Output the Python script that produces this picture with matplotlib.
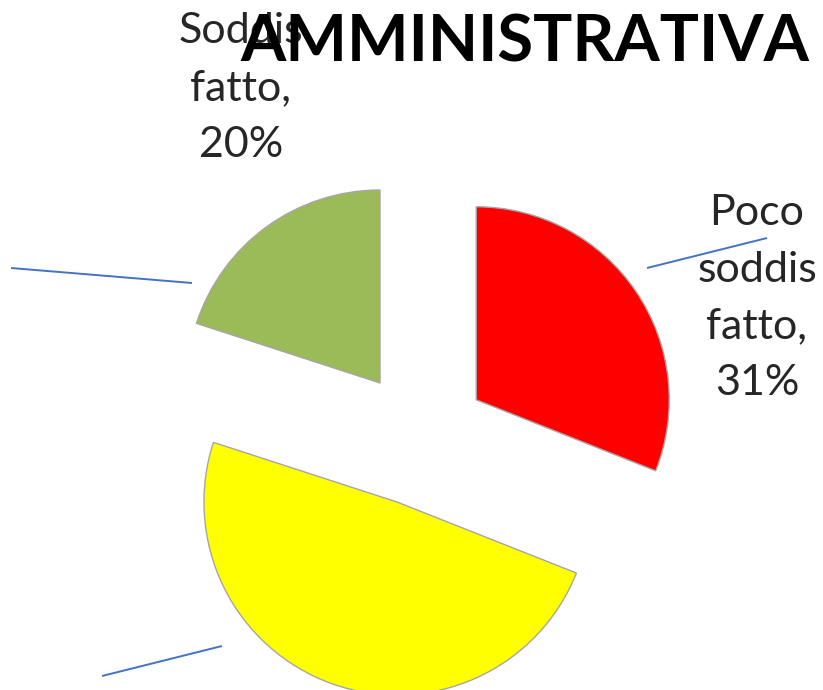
import matplotlib
matplotlib.use("Agg")
import matplotlib.pyplot as plt

# Data
categories = ["Poco soddisfatto", "Abbastanza soddisfatto", "Soddisfatto"]
values = [31, 49, 20]
colors = ["#FF0000", "#FFFF00", "#9BBB59"]
label_lines = {"Poco soddisfatto": "Poco\nsoddis\nfatto",
               "Soddisfatto": "Soddis\nfatto"}
title = "AMMINISTRATIVA"

W, H = 823, 690
fig = plt.figure(figsize=(W / 100, H / 100), dpi=100)
ax = fig.add_axes([0, 0, 1, 1])

R = 193
center = (420, H - 438)
explode = [68] * len(values)
ax.pie(values, colors=colors, startangle=90, counterclock=False,
       radius=R, center=center, explode=explode,
       wedgeprops=dict(edgecolor="#a6a6a6", linewidth=1.0))
ax.set_xlim(0, W)
ax.set_ylim(0, H)
ax.set_aspect("equal")
ax.axis("off")

line_col = "#4472C4"
# leader lines (layout)
leaders = [((647, 268), (767, 238)),
           ((192, 283), (11, 268)),
           ((222, 646), (102, 676))]
for (x0, y0), (x1, y1) in leaders:
    ax.plot([x0, x1], [H - y0, H - y1], color=line_col, lw=1.4,
            solid_capstyle="butt", zorder=1)

txt_col = "#262626"
fs = 31
ls = 1.6
# Poco soddisfatto label
ax.text(757, H - 298, f"{label_lines[categories[0]]},\n{values[0]}%",
        ha="center", va="center", fontsize=fs, family="Lato",
        color=txt_col, linespacing=ls, zorder=3)
# Soddisfatto label
ax.text(241, H - 88, f"{label_lines[categories[2]]},\n{values[2]}%",
        ha="center", va="center", fontsize=fs, family="Lato",
        color=txt_col, linespacing=ls, zorder=3)

ax.text(525, H - 43, title, ha="center", va="center", fontsize=47,
        family="Lato", fontweight="bold", color="black", zorder=4)

fig.savefig("out.png", dpi=100, facecolor="white")
